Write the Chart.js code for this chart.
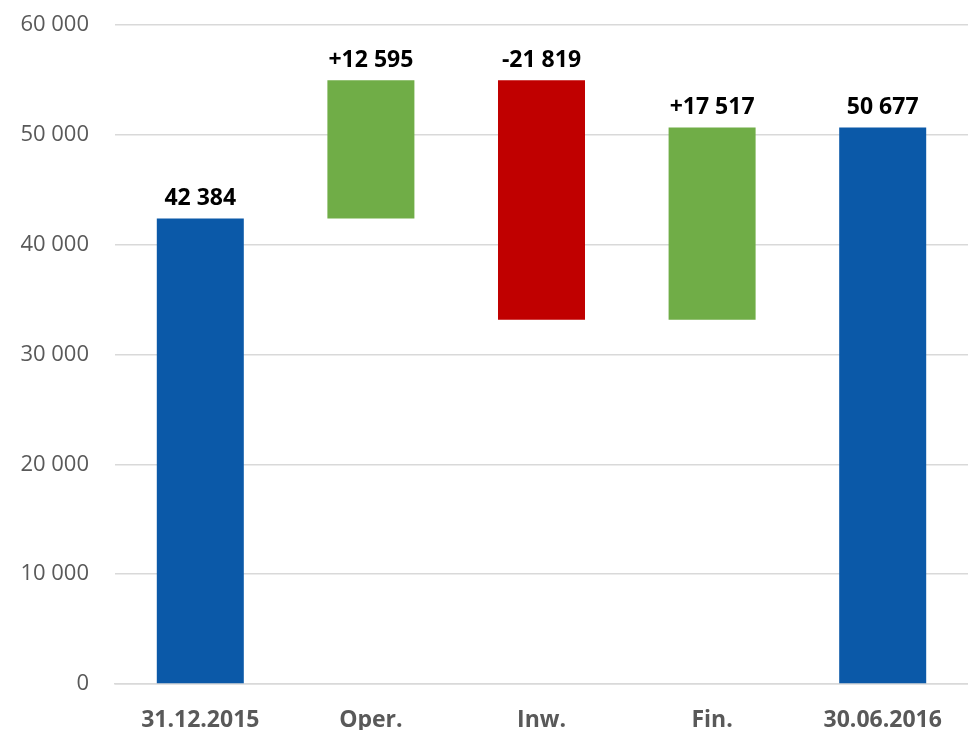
<!DOCTYPE html>
<html>
<head>
<meta charset="utf-8">
<script src="https://cdn.jsdelivr.net/npm/chart.js@4.4.1/dist/chart.umd.min.js"></script>
<style>
  html, body { margin: 0; padding: 0; background: #fff; }
  #wrap { width: 968px; height: 730px; }
</style>
</head>
<body>
<div id="wrap"><canvas id="chart" width="968" height="730"></canvas></div>
<script>
const categories = ['31.12.2015', 'Oper.', 'Inw.', 'Fin.', '30.06.2016'];
const changes = [42384, 12595, -21819, 17517, 50677];
const isTotal = [true, false, false, false, true];
const yTicks = [0, 10000, 20000, 30000, 40000, 50000, 60000];

const BLUE = '#0B59A8';
const GREEN = '#70AD47';
const RED = '#C00000';

// spaces as thousands separator
function fmt(v) {
    const s = Math.abs(v).toString().replace(/\B(?=(\d{3})+(?!\d))/g, ' ');
    return (v < 0 ? '-' : '') + s;
}

// build floating ranges for the waterfall
let running = 0;
const ranges = [];
const colors = [];
const labels = [];
changes.forEach((v, i) => {
    if (isTotal[i]) {
        ranges.push([0, v]);
        running = v;
        colors.push(BLUE);
        labels.push(fmt(v));
    } else {
        ranges.push([running, running + v]);
        running += v;
        colors.push(v >= 0 ? GREEN : RED);
        labels.push((v >= 0 ? '+' : '') + fmt(v));
    }
});

const valueLabels = {
    id: 'valueLabels',
    afterDatasetsDraw(chart) {
        const ctx = chart.ctx;
        const meta = chart.getDatasetMeta(0);
        ctx.save();
        ctx.font = 'bold 23px "Open Sans", sans-serif';
        ctx.fillStyle = '#000';
        ctx.textAlign = 'center';
        ctx.textBaseline = 'alphabetic';
        meta.data.forEach((bar, i) => {
            const top = Math.min(bar.y, bar.base);
            ctx.fillText(labels[i], bar.x, top - 13);
        });
        ctx.restore();
    }
};

new Chart(document.getElementById('chart'), {
    type: 'bar',
    data: {
        labels: categories,
        datasets: [{
            data: ranges,
            backgroundColor: colors,
            borderWidth: 0,
            categoryPercentage: 1,
            barPercentage: 0.51
        }]
    },
    options: {
        responsive: false,
        animation: false,
        layout: { padding: { top: 25, right: 0, left: 0, bottom: 0 } },
        plugins: {
            legend: { display: false },
            tooltip: { enabled: false }
        },
        scales: {
            x: {
                grid: { display: false },
                border: { display: true, color: '#D9D9D9', width: 1.5 },
                ticks: {
                    color: '#595959',
                    font: { family: '"Open Sans", sans-serif', size: 23, weight: 'bold' },
                    padding: 15,
                    maxRotation: 0
                },
                afterFit(scale) { scale.height = 46; }
            },
            y: {
                min: 0,
                max: 60000,
                afterBuildTicks(scale) { scale.ticks = yTicks.map(v => ({ value: v })); },
                grid: { color: '#D9D9D9', lineWidth: 1.5, drawTicks: false },
                border: { display: false },
                ticks: {
                    color: '#595959',
                    font: { family: '"Open Sans", sans-serif', size: 22 },
                    padding: 26,
                    callback: v => fmt(v)
                },
                afterFit(scale) {
                    scale.width = 115;
                    scale.paddingTop = 0;
                    scale.paddingBottom = 0;
                }
            }
        }
    },
    plugins: [valueLabels]
});
</script>
</body>
</html>
